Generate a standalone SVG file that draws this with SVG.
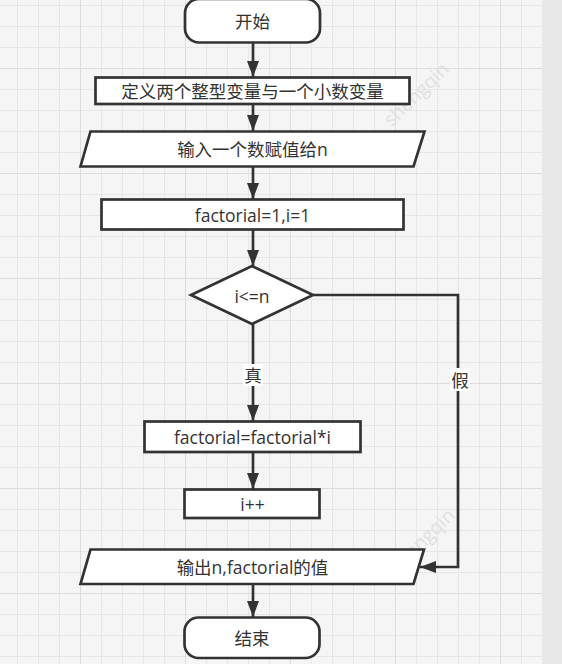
<svg xmlns="http://www.w3.org/2000/svg" width="562" height="664" viewBox="0 0 562 664">
<defs>
<pattern id="minor" patternUnits="userSpaceOnUse" x="17" y="5" width="21" height="21">
<path d="M0.5 0V21M0 0.5H21" stroke="#e6e6e6" stroke-width="1" fill="none"/>
</pattern>
<pattern id="major" patternUnits="userSpaceOnUse" x="80" y="68" width="105" height="105">
<path d="M0.5 0V105M0 0.5H105" stroke="#dcdcdc" stroke-width="1" fill="none"/>
</pattern>
<marker id="ah" viewBox="0 0 16 12" refX="16" refY="6" markerWidth="16" markerHeight="12" markerUnits="userSpaceOnUse" orient="auto">
<path d="M0 0L16 6L0 12Z" fill="#333"/>
</marker>
</defs>
<style>
.shape{fill:#fff;stroke:#333;stroke-width:2.7}
.line{fill:none;stroke:#333;stroke-width:2.7;marker-end:url(#ah)}
text{font-family:"Open Sans","Noto Sans CJK SC",sans-serif;font-size:17.5px;fill:#333;text-anchor:middle;dominant-baseline:central}
.wm{font-family:"Open Sans",sans-serif;font-size:19px;fill:#e0e0e0;text-anchor:middle}
.lbl{fill:#fff;stroke:none}
</style>
<rect width="562" height="664" fill="#f5f5f5"/>
<rect x="542" y="0" width="20" height="664" fill="#e8e8e8"/>
<rect width="542" height="664" fill="url(#minor)"/>
<rect width="542" height="664" fill="url(#major)"/>
<g id="watermarks">
<text class="wm" x="0" y="0" transform="translate(416 94) rotate(-44)">shengqin</text>
<text class="wm" x="0" y="0" transform="translate(422 540) rotate(-44)">shengqin</text>
</g>
<g id="connectors">
<path class="line" d="M253 43V77"/>
<path class="line" d="M253 104V131"/>
<path class="line" d="M253 167V199"/>
<path class="line" d="M253 230V266"/>
<path class="line" d="M253 324V421"/>
<path class="line" d="M253 452V489"/>
<path class="line" d="M253 584V617"/>
<path class="line" d="M313 295H458V567H420"/>
<g id="label-true"><rect class="lbl" x="243" y="364" width="20" height="22"/><text x="253" y="375">真</text></g>
<g id="label-false"><rect class="lbl" x="450" y="368" width="20" height="23"/><text x="460" y="380">假</text></g>
</g>
<g id="start"><rect class="shape" x="185" y="-1" width="135" height="43.5" rx="14" ry="14"/><text x="252.5" y="21">开始</text></g>
<g id="define"><rect class="shape" x="95.5" y="77.5" width="314" height="26.5"/><text x="252.5" y="91">定义两个整型变量与一个小数变量</text></g>
<g id="input"><polygon class="shape" points="90.5,131.5 424.5,131.5 413.5,166.5 80.5,166.5"/><text x="252.5" y="149">输入一个数赋值给n</text></g>
<g id="init"><rect class="shape" x="101.5" y="199.5" width="302" height="30"/><text x="252.5" y="215">factorial=1,i=1</text></g>
<g id="cond"><polygon class="shape" points="252,266 313,295 252,324 191,295"/><text x="252" y="296">i&lt;=n</text></g>
<g id="mult"><rect class="shape" x="144.5" y="421.5" width="216" height="30.5"/><text x="252.5" y="437">factorial=factorial*i</text></g>
<g id="inc"><rect class="shape" x="184.5" y="489.5" width="135" height="28.5"/><text x="252.5" y="504">i++</text></g>
<g id="output"><polygon class="shape" points="90.5,549.5 424,549.5 413.5,584 80.5,584"/><text x="252.5" y="567">输出n,factorial的值</text></g>
<g id="end"><rect class="shape" x="184.5" y="617.5" width="135" height="40.5" rx="14" ry="14"/><text x="252" y="638">结束</text></g>
</svg>
